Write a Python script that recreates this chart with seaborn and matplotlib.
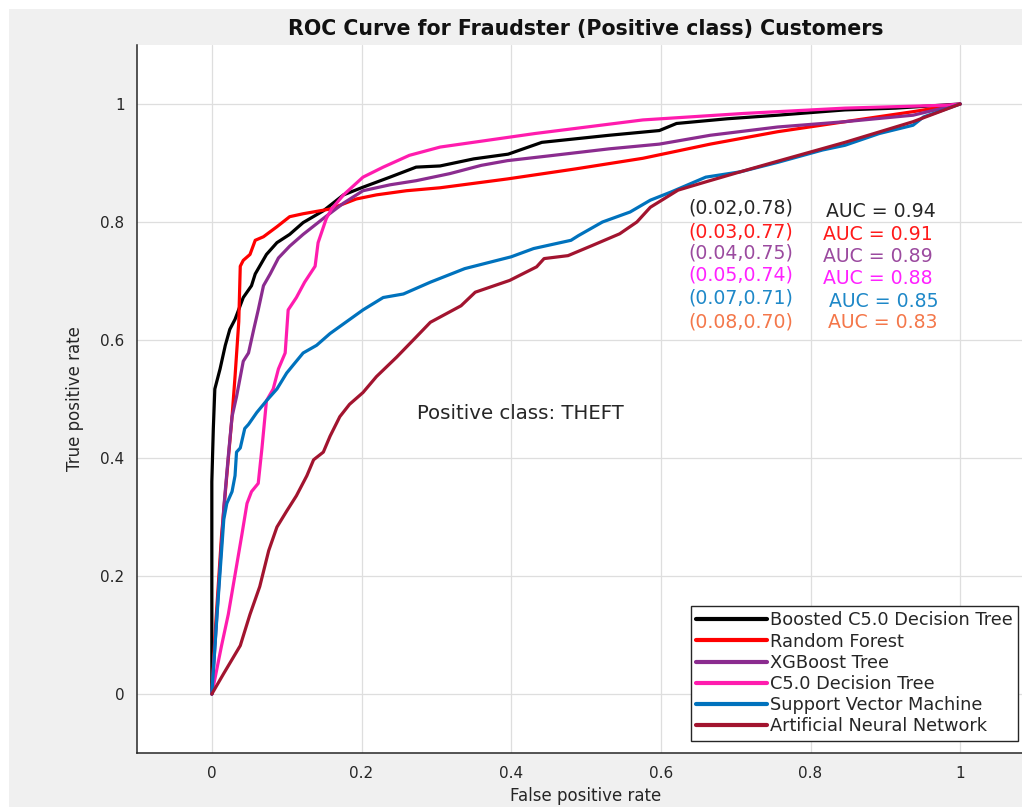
import numpy as np
import pandas as pd
import matplotlib.pyplot as plt
import seaborn as sns
from matplotlib.patches import Rectangle

# ROC points (false positive rate, true positive rate)
models = ["Boosted C5.0 Decision Tree", "Random Forest", "XGBoost Tree",
          "C5.0 Decision Tree", "Support Vector Machine", "Artificial Neural Network"]

boosted_fpr = [0, 0.0, 0.002, 0.004, 0.011, 0.018, 0.024, 0.031, 0.042, 0.053, 0.058, 0.073, 0.087,
               0.104, 0.122, 0.149, 0.176, 0.202, 0.238, 0.273, 0.305, 0.35, 0.396, 0.441, 0.531,
               0.598, 0.621, 0.689, 0.756, 0.846, 0.914, 1.0]
boosted_tpr = [0, 0.36, 0.45, 0.517, 0.551, 0.591, 0.618, 0.635, 0.672, 0.692, 0.712, 0.745, 0.765,
               0.779, 0.799, 0.819, 0.846, 0.859, 0.876, 0.893, 0.895, 0.907, 0.915, 0.935, 0.947,
               0.955, 0.967, 0.975, 0.981, 0.99, 0.993, 1.0]

rf_fpr = [0, 0.004, 0.013, 0.02, 0.027, 0.031, 0.036, 0.038, 0.042, 0.051, 0.058, 0.069, 0.087, 0.104,
          0.122, 0.158, 0.193, 0.22, 0.26, 0.305, 0.395, 0.486, 0.576, 0.666, 0.756, 0.846, 0.937, 1.0]
rf_tpr = [0, 0.095, 0.269, 0.37, 0.47, 0.538, 0.631, 0.725, 0.735, 0.745, 0.769, 0.775, 0.792, 0.809,
          0.814, 0.822, 0.839, 0.846, 0.853, 0.858, 0.873, 0.89, 0.908, 0.932, 0.953, 0.97, 0.987, 1.0]

xgb_fpr = [0, 0.016, 0.022, 0.027, 0.033, 0.042, 0.049, 0.056, 0.062, 0.069, 0.078, 0.089, 0.104,
           0.122, 0.149, 0.176, 0.202, 0.238, 0.273, 0.318, 0.36, 0.395, 0.45, 0.531, 0.598, 0.666,
           0.756, 0.846, 0.937, 1.0]
xgb_tpr = [0, 0.316, 0.403, 0.47, 0.504, 0.564, 0.578, 0.618, 0.651, 0.692, 0.712, 0.739, 0.759,
           0.779, 0.806, 0.832, 0.853, 0.863, 0.87, 0.882, 0.896, 0.904, 0.912, 0.924, 0.932, 0.947,
           0.961, 0.97, 0.981, 1.0]

c50_fpr = [0, 0.013, 0.022, 0.031, 0.04, 0.047, 0.053, 0.062, 0.067, 0.073, 0.082, 0.089, 0.098,
           0.102, 0.113, 0.124, 0.138, 0.142, 0.153, 0.16, 0.176, 0.202, 0.229, 0.264, 0.305, 0.432,
           0.576, 0.711, 0.846, 0.982, 1.0]
c50_tpr = [0, 0.082, 0.135, 0.202, 0.269, 0.323, 0.343, 0.357, 0.417, 0.497, 0.517, 0.551, 0.578,
           0.651, 0.672, 0.698, 0.725, 0.765, 0.806, 0.822, 0.846, 0.876, 0.893, 0.913, 0.927, 0.95,
           0.973, 0.984, 0.993, 0.998, 1.0]

svm_fpr = [0, 0.007, 0.016, 0.02, 0.027, 0.031, 0.033, 0.038, 0.044, 0.049, 0.06, 0.073, 0.087, 0.1,
           0.109, 0.122, 0.14, 0.158, 0.18, 0.202, 0.229, 0.256, 0.292, 0.338, 0.4, 0.43, 0.48, 0.49,
           0.522, 0.559, 0.586, 0.614, 0.66, 0.706, 0.756, 0.816, 0.846, 0.892, 0.937, 0.951, 1.0]
svm_tpr = [0, 0.135, 0.296, 0.323, 0.343, 0.37, 0.41, 0.417, 0.45, 0.457, 0.477, 0.497, 0.517, 0.544,
           0.558, 0.578, 0.591, 0.611, 0.631, 0.651, 0.672, 0.678, 0.698, 0.721, 0.741, 0.755, 0.769,
           0.777, 0.8, 0.817, 0.837, 0.851, 0.876, 0.885, 0.901, 0.922, 0.93, 0.95, 0.964, 0.978, 1.0]

ann_fpr = [0, 0.016, 0.038, 0.051, 0.064, 0.076, 0.087, 0.1, 0.113, 0.127, 0.136, 0.149, 0.158, 0.171,
           0.184, 0.202, 0.22, 0.247, 0.273, 0.292, 0.333, 0.352, 0.398, 0.434, 0.444, 0.476, 0.508,
           0.545, 0.568, 0.586, 0.623, 0.66, 0.706, 0.756, 0.846, 0.937, 1.0]
ann_tpr = [0, 0.035, 0.082, 0.135, 0.182, 0.243, 0.283, 0.31, 0.336, 0.37, 0.397, 0.41, 0.437, 0.47,
           0.491, 0.511, 0.538, 0.571, 0.605, 0.63, 0.658, 0.681, 0.701, 0.724, 0.738, 0.743, 0.76,
           0.78, 0.8, 0.825, 0.854, 0.868, 0.885, 0.903, 0.935, 0.97, 1.0]

op_points = ["(0.02,0.78)", "(0.03,0.77)", "(0.04,0.75)", "(0.05,0.74)", "(0.07,0.71)", "(0.08,0.70)"]
auc_values = [0.94, 0.91, 0.89, 0.88, 0.85, 0.83]

line_colors = ["#000000", "#ff0000", "#8b2c8f", "#ff1cae", "#0072bd", "#a2142f"]
text_colors = ["#262626", "#ff1a1a", "#9b4a9f", "#ff22ff", "#1e88c8", "#f4774a"]

curves = [(boosted_fpr, boosted_tpr), (rf_fpr, rf_tpr), (xgb_fpr, xgb_tpr),
          (c50_fpr, c50_tpr), (svm_fpr, svm_tpr), (ann_fpr, ann_tpr)]
frames = []
for name, (fpr, tpr) in zip(models, curves):
    frames.append(pd.DataFrame({"fpr": fpr, "tpr": tpr, "model": name}))
df = pd.concat(frames, ignore_index=True)

sns.set_theme(style="whitegrid")
plt.rcParams['font.family'] = ['DejaVu Sans']

fig = plt.figure(figsize=(10.22, 8.07), dpi=100, facecolor="white")
# grey MATLAB-like figure background, with thin white strip on top and left
fig.patches.append(Rectangle((9 / 1022, 0), 1, 1 - 9 / 807, transform=fig.transFigure,
                             facecolor="#f0f0f0", edgecolor="none", zorder=-10))

ax = fig.add_axes([137 / 1022, 1 - 753 / 807, 898 / 1022, 708 / 807])
ax.set_facecolor("white")

# one line per model, points kept in the order they were read (ROC path)
sns.lineplot(data=df, x="fpr", y="tpr", hue="model", hue_order=models,
             palette=dict(zip(models, line_colors)), estimator=None, sort=False,
             linewidth=2.3, ax=ax)

ax.set_xlim(-0.1, 1.1)
ax.set_ylim(-0.1, 1.1)
ax.set_xticks([0, 0.2, 0.4, 0.6, 0.8, 1])
ax.set_yticks([0, 0.2, 0.4, 0.6, 0.8, 1])
ax.set_xticklabels(["0", "0.2", "0.4", "0.6", "0.8", "1"])
ax.set_yticklabels(["0", "0.2", "0.4", "0.6", "0.8", "1"])
ax.grid(True, color="#dedede", linewidth=0.9)
ax.tick_params(axis="both", direction="in", length=5, width=1, color="#262626",
               labelsize=11, labelcolor="#262626", pad=9)
for side in ["top", "right"]:
    ax.spines[side].set_visible(False)
for side in ["left", "bottom"]:
    ax.spines[side].set_color("#262626")
    ax.spines[side].set_linewidth(1.1)

ax.set_xlabel("False positive rate", fontsize=12, color="#262626", labelpad=5)
ax.set_ylabel("True positive rate", fontsize=12, color="#262626", labelpad=12)
ax.set_title("ROC Curve for Fraudster (Positive class) Customers", fontsize=14.8,
             fontweight="bold", color="#111111", pad=7)

pair_y = [0.824, 0.783, 0.747, 0.71, 0.671, 0.631]
auc_x = [0.821, 0.817, 0.817, 0.817, 0.825, 0.824]
auc_y = [0.817, 0.778, 0.742, 0.705, 0.666, 0.629]
for i in range(len(models)):
    ax.text(0.637, pair_y[i], op_points[i], color=text_colors[i], fontsize=13.6,
            ha="left", va="center")
    ax.text(auc_x[i], auc_y[i], f"AUC = {auc_values[i]:.2f}", color=text_colors[i],
            fontsize=13.6, ha="left", va="center")

ax.text(0.274, 0.476, "Positive class: THEFT", color="#262626", fontsize=14.2,
        ha="left", va="center")

leg = ax.legend(loc="upper right", bbox_to_anchor=(0.981, 0.2076), borderaxespad=0,
                fontsize=12.8, handlelength=4.0, handletextpad=0.15, labelspacing=0.18,
                borderpad=0.3, fancybox=False, framealpha=1, edgecolor="#262626")
leg.get_frame().set_linewidth(1.0)
for h in leg.get_lines():
    h.set_linewidth(3)

fig.savefig("out.png", dpi=100, facecolor=fig.get_facecolor())
